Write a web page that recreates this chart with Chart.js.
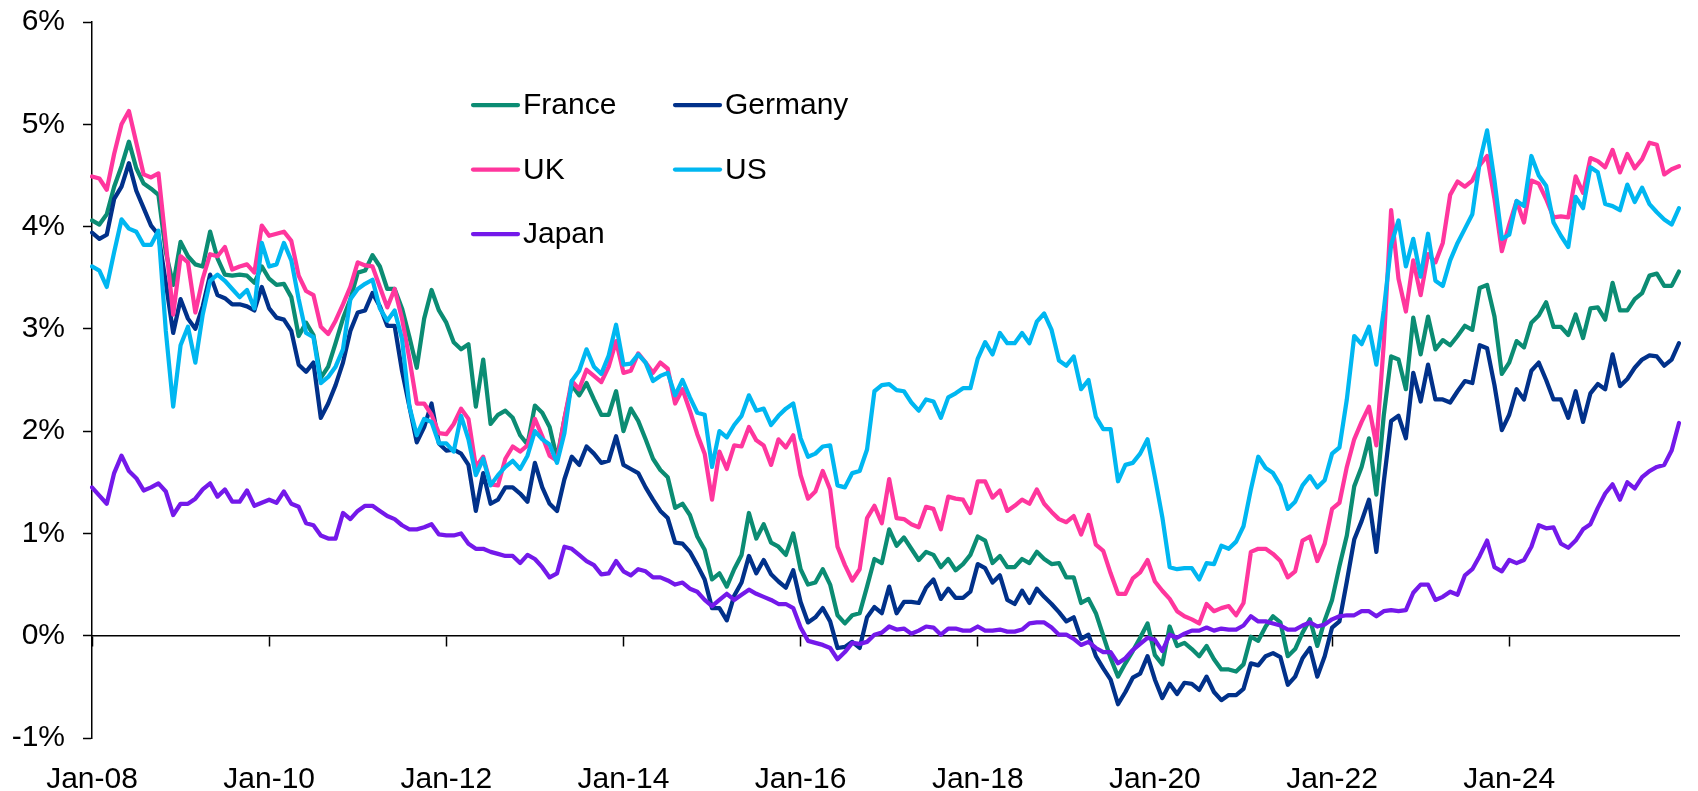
<!DOCTYPE html>
<html>
<head>
<meta charset="utf-8">
<script src="https://cdn.jsdelivr.net/npm/chart.js@4.4.1/dist/chart.umd.min.js"></script>
<style>
   html, body { margin: 0; padding: 0; background: #fff; }
   #wrap { width: 1698px; height: 791px; position: relative; }
</style>
</head>
<body>
<div id="wrap"><canvas id="myChart"></canvas></div>
<script>
// monthly 10y yields, Jan 2008 .. Dec 2025 (one row per year)
const monthNames = ['Jan', 'Feb', 'Mar', 'Apr', 'May', 'Jun', 'Jul', 'Aug', 'Sep', 'Oct', 'Nov', 'Dec'];
const firstYear = 2008;
const lastYear = 2025;

const france = [
   4.06, 4.02, 4.12, 4.39, 4.59, 4.83, 4.57, 4.42, 4.37, 4.31, 3.75, 3.43,
   3.85, 3.71, 3.63, 3.61, 3.95, 3.69, 3.53, 3.52, 3.53, 3.52, 3.45, 3.61,
   3.49, 3.43, 3.44, 3.31, 2.93, 3.06, 2.94, 2.52, 2.63, 2.86, 3.10, 3.29,
   3.55, 3.57, 3.72, 3.61, 3.39, 3.39, 3.20, 2.92, 2.62, 3.10, 3.38, 3.18,
   3.06, 2.87, 2.80, 2.85, 2.24, 2.70, 2.07, 2.16, 2.20, 2.13, 1.96, 1.87,
   2.25, 2.18, 2.04, 1.73, 2.12, 2.45, 2.35, 2.47, 2.31, 2.16, 2.16, 2.39,
   2.00, 2.22, 2.10, 1.92, 1.73, 1.62, 1.55, 1.25, 1.29, 1.18, 0.97, 0.84,
   0.55, 0.61, 0.48, 0.65, 0.79, 1.20, 0.95, 1.09, 0.91, 0.87, 0.79, 1.00,
   0.65, 0.50, 0.52, 0.65, 0.50, 0.20, 0.12, 0.20, 0.22, 0.48, 0.75, 0.71,
   1.04, 0.88, 0.96, 0.85, 0.74, 0.82, 0.79, 0.67, 0.75, 0.64, 0.70, 0.79,
   0.97, 0.93, 0.71, 0.78, 0.67, 0.67, 0.75, 0.71, 0.82, 0.75, 0.70, 0.71,
   0.57, 0.57, 0.32, 0.36, 0.22, 0.00, -0.22, -0.40, -0.27, -0.15, -0.02, 0.12,
   -0.19, -0.28, 0.09, -0.10, -0.07, -0.13, -0.20, -0.10, -0.23, -0.33, -0.33, -0.35,
   -0.28, -0.01, -0.05, 0.09, 0.19, 0.13, -0.20, -0.13, 0.03, 0.16, -0.10, 0.15,
   0.35, 0.68, 0.98, 1.46, 1.65, 1.93, 1.38, 2.15, 2.73, 2.70, 2.41, 3.11,
   2.75, 3.12, 2.80, 2.89, 2.84, 2.93, 3.03, 2.99, 3.40, 3.43, 3.12, 2.56,
   2.67, 2.88, 2.82, 3.06, 3.13, 3.26, 3.02, 3.02, 2.94, 3.14, 2.91, 3.20,
   3.21, 3.09, 3.45, 3.18, 3.18, 3.29, 3.35, 3.52, 3.54, 3.42, 3.42, 3.56
];

const germany = [
   3.94, 3.88, 3.92, 4.27, 4.39, 4.62, 4.35, 4.18, 4.01, 3.92, 3.45, 2.96,
   3.29, 3.10, 3.00, 3.22, 3.53, 3.33, 3.30, 3.24, 3.24, 3.22, 3.18, 3.41,
   3.20, 3.11, 3.09, 2.98, 2.65, 2.58, 2.67, 2.13, 2.27, 2.45, 2.67, 2.98,
   3.16, 3.18, 3.35, 3.22, 3.03, 3.03, 2.59, 2.24, 1.89, 2.04, 2.27, 1.88,
   1.81, 1.82, 1.78, 1.67, 1.22, 1.59, 1.29, 1.33, 1.45, 1.45, 1.39, 1.31,
   1.69, 1.45, 1.29, 1.22, 1.53, 1.75, 1.67, 1.85, 1.78, 1.69, 1.71, 1.95,
   1.67, 1.63, 1.59, 1.45, 1.33, 1.22, 1.15, 0.91, 0.90, 0.82, 0.69, 0.55,
   0.27, 0.27, 0.15, 0.39, 0.52, 0.78, 0.61, 0.74, 0.60, 0.53, 0.47, 0.64,
   0.33, 0.13, 0.18, 0.27, 0.14, -0.12, -0.11, -0.06, -0.12, 0.18, 0.28, 0.22,
   0.48, 0.22, 0.33, 0.33, 0.32, 0.47, 0.55, 0.36, 0.46, 0.37, 0.37, 0.43,
   0.70, 0.66, 0.52, 0.59, 0.35, 0.31, 0.44, 0.32, 0.46, 0.38, 0.31, 0.23,
   0.14, 0.18, -0.03, 0.01, -0.20, -0.32, -0.43, -0.67, -0.55, -0.41, -0.37, -0.20,
   -0.43, -0.61, -0.47, -0.57, -0.46, -0.47, -0.53, -0.40, -0.55, -0.63, -0.58, -0.58,
   -0.52, -0.27, -0.29, -0.20, -0.17, -0.21, -0.48, -0.40, -0.22, -0.12, -0.40, -0.20,
   0.08, 0.14, 0.53, 0.94, 1.12, 1.33, 0.82, 1.50, 2.10, 2.15, 1.93, 2.57,
   2.29, 2.65, 2.31, 2.31, 2.28, 2.39, 2.49, 2.47, 2.84, 2.81, 2.45, 2.01,
   2.16, 2.41, 2.31, 2.59, 2.67, 2.50, 2.31, 2.31, 2.13, 2.39, 2.09, 2.37,
   2.46, 2.41, 2.75, 2.44, 2.51, 2.62, 2.70, 2.74, 2.73, 2.64, 2.70, 2.86
];

const uk = [
   4.49, 4.47, 4.36, 4.71, 5.00, 5.13, 4.82, 4.51, 4.48, 4.52, 3.84, 3.14,
   3.71, 3.65, 3.16, 3.49, 3.73, 3.71, 3.80, 3.58, 3.61, 3.63, 3.55, 4.01,
   3.91, 3.93, 3.95, 3.86, 3.52, 3.37, 3.33, 3.02, 2.95, 3.08, 3.24, 3.41,
   3.65, 3.62, 3.61, 3.41, 3.21, 3.39, 3.10, 2.71, 2.27, 2.27, 2.16, 1.98,
   1.97, 2.07, 2.22, 2.12, 1.65, 1.75, 1.48, 1.47, 1.73, 1.85, 1.80, 1.86,
   2.12, 1.95, 1.76, 1.71, 2.12, 2.49, 2.41, 2.60, 2.54, 2.48, 2.63, 2.88,
   2.57, 2.59, 2.76, 2.67, 2.57, 2.67, 2.61, 2.27, 2.41, 2.20, 1.97, 1.78,
   1.33, 1.80, 1.63, 1.86, 1.85, 2.04, 1.91, 1.86, 1.67, 1.92, 1.84, 1.96,
   1.57, 1.34, 1.41, 1.61, 1.43, 0.87, 0.69, 0.54, 0.65, 1.15, 1.27, 1.10,
   1.53, 1.15, 1.14, 1.09, 1.06, 1.26, 1.24, 1.04, 1.36, 1.34, 1.33, 1.20,
   1.51, 1.51, 1.35, 1.42, 1.22, 1.27, 1.33, 1.29, 1.43, 1.29, 1.21, 1.14,
   1.11, 1.17, 0.99, 1.18, 0.89, 0.83, 0.61, 0.41, 0.41, 0.56, 0.62, 0.74,
   0.53, 0.44, 0.36, 0.24, 0.19, 0.16, 0.12, 0.31, 0.24, 0.27, 0.29, 0.20,
   0.32, 0.82, 0.85, 0.85, 0.80, 0.73, 0.57, 0.63, 0.93, 0.97, 0.73, 0.90,
   1.24, 1.30, 1.65, 1.92, 2.09, 2.24, 1.86, 2.85, 4.16, 3.49, 3.17, 3.67,
   3.33, 3.73, 3.65, 3.84, 4.31, 4.44, 4.39, 4.45, 4.60, 4.69, 4.27, 3.76,
   4.02, 4.25, 4.04, 4.45, 4.42, 4.27, 4.09, 4.10, 4.09, 4.49, 4.33, 4.67,
   4.64, 4.58, 4.75, 4.53, 4.71, 4.57, 4.66, 4.82, 4.80, 4.51, 4.56, 4.59
];

const us = [
   3.61, 3.57, 3.41, 3.75, 4.07, 3.98, 3.95, 3.82, 3.82, 3.96, 2.98, 2.24,
   2.84, 3.02, 2.67, 3.14, 3.47, 3.53, 3.47, 3.39, 3.31, 3.38, 3.20, 3.84,
   3.61, 3.63, 3.84, 3.67, 3.29, 2.96, 2.92, 2.47, 2.53, 2.63, 2.80, 3.29,
   3.39, 3.44, 3.48, 3.20, 3.08, 3.18, 2.90, 2.24, 1.96, 2.12, 2.09, 1.88,
   1.88, 1.80, 2.15, 1.92, 1.57, 1.73, 1.47, 1.57, 1.65, 1.71, 1.63, 1.76,
   2.00, 1.92, 1.87, 1.69, 1.98, 2.49, 2.59, 2.80, 2.63, 2.56, 2.74, 3.04,
   2.65, 2.66, 2.75, 2.67, 2.49, 2.54, 2.57, 2.35, 2.50, 2.33, 2.18, 2.16,
   1.65, 2.00, 1.94, 2.06, 2.15, 2.35, 2.20, 2.22, 2.06, 2.15, 2.22, 2.27,
   1.93, 1.75, 1.78, 1.85, 1.86, 1.47, 1.45, 1.59, 1.61, 1.82, 2.39, 2.45,
   2.46, 2.40, 2.39, 2.28, 2.20, 2.31, 2.29, 2.13, 2.33, 2.37, 2.42, 2.42,
   2.71, 2.87, 2.75, 2.96, 2.86, 2.86, 2.96, 2.86, 3.07, 3.15, 2.99, 2.69,
   2.64, 2.73, 2.41, 2.50, 2.14, 2.02, 2.02, 1.51, 1.67, 1.69, 1.78, 1.92,
   1.55, 1.16, 0.67, 0.65, 0.66, 0.66, 0.55, 0.71, 0.70, 0.88, 0.85, 0.92,
   1.07, 1.43, 1.75, 1.64, 1.59, 1.47, 1.24, 1.31, 1.47, 1.56, 1.45, 1.52,
   1.78, 1.84, 2.31, 2.93, 2.85, 3.02, 2.65, 3.18, 3.82, 4.06, 3.61, 3.88,
   3.51, 3.93, 3.47, 3.42, 3.67, 3.84, 3.98, 4.12, 4.63, 4.94, 4.45, 3.88,
   3.92, 4.25, 4.20, 4.69, 4.50, 4.40, 4.04, 3.91, 3.80, 4.29, 4.18, 4.58,
   4.53, 4.22, 4.20, 4.16, 4.41, 4.24, 4.38, 4.22, 4.14, 4.07, 4.02, 4.18
];

const japan = [
   1.45, 1.37, 1.29, 1.59, 1.76, 1.61, 1.54, 1.42, 1.45, 1.49, 1.41, 1.18,
   1.29, 1.29, 1.34, 1.43, 1.49, 1.36, 1.43, 1.31, 1.31, 1.42, 1.27, 1.30,
   1.33, 1.30, 1.41, 1.29, 1.26, 1.10, 1.08, 0.98, 0.95, 0.95, 1.20, 1.14,
   1.22, 1.27, 1.27, 1.22, 1.17, 1.14, 1.08, 1.04, 1.04, 1.06, 1.09, 0.99,
   0.98, 0.98, 1.00, 0.90, 0.85, 0.85, 0.82, 0.80, 0.78, 0.78, 0.71, 0.79,
   0.75, 0.67, 0.57, 0.61, 0.87, 0.85, 0.79, 0.73, 0.69, 0.60, 0.61, 0.73,
   0.63, 0.59, 0.65, 0.63, 0.57, 0.57, 0.54, 0.50, 0.52, 0.46, 0.43, 0.35,
   0.29, 0.35, 0.41, 0.35, 0.40, 0.45, 0.41, 0.38, 0.35, 0.31, 0.31, 0.27,
   0.08, -0.05, -0.07, -0.09, -0.12, -0.23, -0.16, -0.07, -0.08, -0.06, 0.01, 0.03,
   0.09, 0.06, 0.07, 0.02, 0.05, 0.09, 0.08, 0.01, 0.07, 0.07, 0.05, 0.05,
   0.09, 0.05, 0.05, 0.06, 0.04, 0.04, 0.06, 0.12, 0.13, 0.13, 0.08, 0.01,
   0.01, -0.03, -0.09, -0.06, -0.12, -0.16, -0.16, -0.27, -0.22, -0.14, -0.08, -0.02,
   -0.04, -0.15, 0.01, -0.02, 0.02, 0.05, 0.05, 0.08, 0.05, 0.07, 0.06, 0.06,
   0.10, 0.19, 0.14, 0.14, 0.12, 0.10, 0.06, 0.06, 0.10, 0.13, 0.09, 0.11,
   0.16, 0.19, 0.20, 0.20, 0.24, 0.24, 0.19, 0.24, 0.25, 0.24, 0.25, 0.42,
   0.50, 0.50, 0.35, 0.38, 0.43, 0.40, 0.59, 0.65, 0.78, 0.93, 0.67, 0.63,
   0.74, 0.71, 0.74, 0.87, 1.08, 1.05, 1.06, 0.90, 0.86, 0.93, 1.04, 1.09,
   1.25, 1.39, 1.48, 1.33, 1.50, 1.44, 1.55, 1.61, 1.65, 1.67, 1.81, 2.08
];

const seriesNames = ['France', 'Germany', 'UK', 'US', 'Japan'];
const seriesData = [france, germany, uk, us, japan];
const seriesColors = ['#0b8c73', '#01318a', '#ff369d', '#00b7f1', '#7419ea'];

// category labels: "Jan-08", "Feb-08", ...
const labels = [];
for (let y = firstYear; y <= lastYear; y++) {
   monthNames.forEach(m => labels.push(m + '-' + String(y % 100).padStart(2, '0')));
}
const labelEvery = 24; // a tick every two years

const FONT = '"Liberation Sans", Arial, Helvetica, sans-serif';

// legend drawn inside the plot, two columns
const insideLegend = {
   id: 'insideLegend',
   afterDatasetsDraw(chart, args, opts) {
      const { ctx, chartArea } = chart;
      ctx.save();
      ctx.font = opts.fontSize + 'px ' + FONT;
      ctx.textBaseline = 'middle';
      ctx.textAlign = 'left';
      chart.data.datasets.forEach((ds, i) => {
         const col = i % 2, row = Math.floor(i / 2);
         const x = chartArea.left + opts.left + col * opts.colGap;
         const y = chartArea.top + opts.top + row * opts.rowGap;
         ctx.strokeStyle = ds.borderColor;
         ctx.lineWidth = ds.borderWidth;
         ctx.lineCap = 'round';
         ctx.beginPath();
         ctx.moveTo(x, y);
         ctx.lineTo(x + opts.lineLen, y);
         ctx.stroke();
         ctx.fillStyle = '#000';
         ctx.fillText(ds.label, x + opts.lineLen + opts.gap, y + 1);
      });
      ctx.restore();
   }
};
Chart.register(insideLegend);

const ctx = document.getElementById('myChart').getContext('2d');
new Chart(ctx, {
   type: 'line',
   data: {
      labels: labels,
      datasets: seriesNames.map((name, i) => ({
         label: name,
         data: seriesData[i],
         borderColor: seriesColors[i],
         backgroundColor: seriesColors[i],
         borderWidth: 4.25,
         borderJoinStyle: 'round',
         borderCapStyle: 'round',
         pointRadius: 0,
         tension: 0,
         fill: false,
         order: seriesNames.length - i // later series drawn on top
      }))
   },
   options: {
      responsive: true,
      maintainAspectRatio: false,
      animation: false,
      devicePixelRatio: 1,
      layout: {
         padding: { top: 22, left: 0, right: 0, bottom: 0 }
      },
      plugins: {
         legend: { display: false },
         tooltip: { enabled: false },
         insideLegend: {
            left: 381, top: 83, colGap: 202, rowGap: 64.5,
            lineLen: 45, gap: 5, fontSize: 30
         }
      },
      scales: {
         y: {
            min: -1,
            max: 6,
            afterFit: s => { s.width = 92; s.paddingTop = 0; s.paddingBottom = 0; },
            border: { display: true, color: '#000', width: 1.5 },
            grid: {
               drawOnChartArea: false,
               drawTicks: true,
               tickLength: 9,
               tickColor: '#000',
               tickWidth: 1.5
            },
            ticks: {
               stepSize: 1,
               padding: 18,
               color: '#000',
               font: { family: FONT, size: 30 },
               callback: v => v + '%'
            }
         },
         // zero line with a tick mark every two years
         x: {
            type: 'category',
            position: { y: 0 },
            afterFit: s => { s.height = 0; s.paddingTop = 0; s.paddingBottom = 0; },
            border: { display: true, color: '#000', width: 1.5 },
            grid: {
               drawOnChartArea: false,
               drawTicks: true,
               tickLength: 10,
               tickWidth: 1.5,
               tickColor: c => (c.index % labelEvery === 0 ? '#000' : 'rgba(0,0,0,0)')
            },
            ticks: { display: false, autoSkip: false }
         },
         // date labels along the bottom
         x2: {
            type: 'category',
            position: 'bottom',
            afterFit: s => { s.height = 53; s.paddingTop = 0; s.paddingBottom = 0; },
            border: { display: false },
            grid: { display: false },
            ticks: {
               autoSkip: false,
               maxRotation: 0,
               minRotation: 0,
               padding: 19,
               color: '#000',
               font: { family: FONT, size: 30, lineHeight: 1 },
               callback: (v, i) => (i % labelEvery === 0 ? labels[i] : '')
            }
         }
      }
   }
});
</script>
</body>
</html>
